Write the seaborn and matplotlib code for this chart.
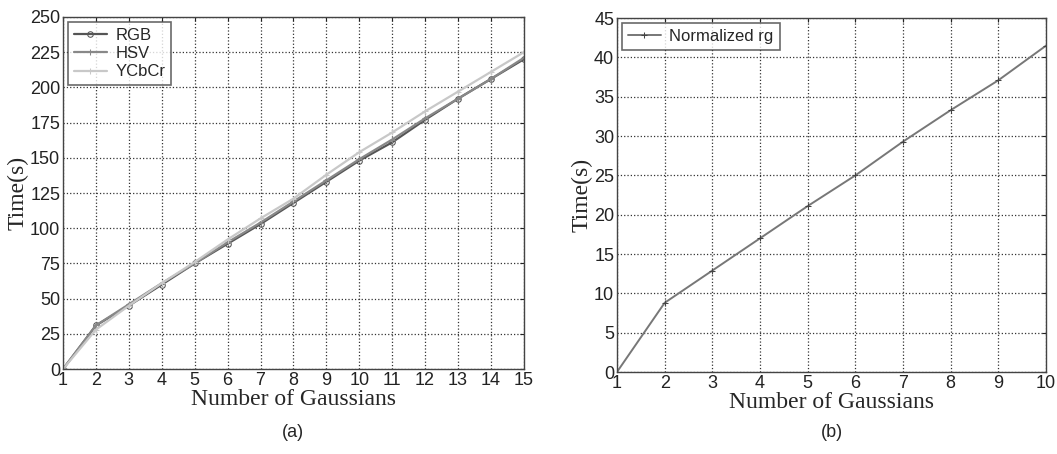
import pandas as pd
import seaborn as sns
import matplotlib.pyplot as plt

gauss_a = list(range(1, 16))
rgb = [0, 31, 45, 60, 75, 89, 103, 118, 133, 148, 161, 177, 192, 206, 220]
hsv = [0, 31, 46, 61, 75, 90, 104, 119, 134, 149, 163, 178, 192, 206, 221]
ycbcr = [0, 28, 45, 61, 76, 92, 107, 121, 138, 154, 168, 183, 197, 211, 225]

gauss_b = list(range(1, 11))
norm_rg = [0, 8.8, 12.9, 17.0, 21.1, 25.0, 29.3, 33.3, 37.1, 41.5]

sns.set_style("white")
plt.rcParams["font.family"] = ["Liberation Sans", "DejaVu Sans"]

fig = plt.figure(figsize=(10.57, 4.54), dpi=100)
ax1 = fig.add_axes([0.0596, 0.187, 0.436, 0.7756])
ax2 = fig.add_axes([0.5837, 0.1806, 0.4059, 0.7794])

df_a = pd.DataFrame({"n": gauss_a * 3,
                     "t": rgb + hsv + ycbcr,
                     "space": ["RGB"] * 15 + ["HSV"] * 15 + ["YCbCr"] * 15})
styles = {"RGB": ("#555555", "o", 4), "HSV": ("#888888", "+", 5), "YCbCr": ("#c8c8c8", "+", 5)}
for name in ["RGB", "HSV", "YCbCr"]:
    c, m, ms = styles[name]
    sns.lineplot(data=df_a[df_a.space == name], x="n", y="t", ax=ax1, color=c,
                 marker=m, markersize=ms, markerfacecolor="none", markeredgecolor=c,
                 linewidth=1.6, label=name)

df_b = pd.DataFrame({"n": gauss_b, "t": norm_rg})
sns.lineplot(data=df_b, x="n", y="t", ax=ax2, color="#777777", marker="+",
             markersize=5, markeredgecolor="#444444", linewidth=1.4, label="Normalized rg")

for ax, xmax, ymax, ystep in [(ax1, 15, 250, 25), (ax2, 10, 45, 5)]:
    ax.set_xlim(1, xmax)
    ax.set_ylim(0, ymax)
    ax.set_xticks(range(1, xmax + 1))
    ax.set_yticks(range(0, ymax + 1, ystep))
    ax.grid(True, linestyle=":", color="#333333", linewidth=0.9)
    ax.tick_params(labelsize=13, pad=2, direction="in", length=3, colors="#222222",
                   top=True, right=True)
    for s in ax.spines.values():
        s.set_color("#444444")
        s.set_linewidth(1.0)
    ax.set_xlabel("Number of Gaussians", family="Liberation Serif", fontsize=17, labelpad=0)
    ax.set_ylabel("Time(s)", family="Liberation Serif", fontsize=17, labelpad=1)
    leg = ax.legend(loc="upper left", fontsize=12, frameon=True, fancybox=False,
                    borderaxespad=0.3, handlelength=2.0, labelspacing=0.2,
                    borderpad=0.35, handletextpad=0.5)
    leg.get_frame().set_edgecolor("#444444")
    leg.get_frame().set_linewidth(1.2)

fig.text(0.277, 0.037, "(a)", fontsize=13, ha="center")
fig.text(0.787, 0.037, "(b)", fontsize=13, ha="center")

fig.savefig("out.png", dpi=100)
